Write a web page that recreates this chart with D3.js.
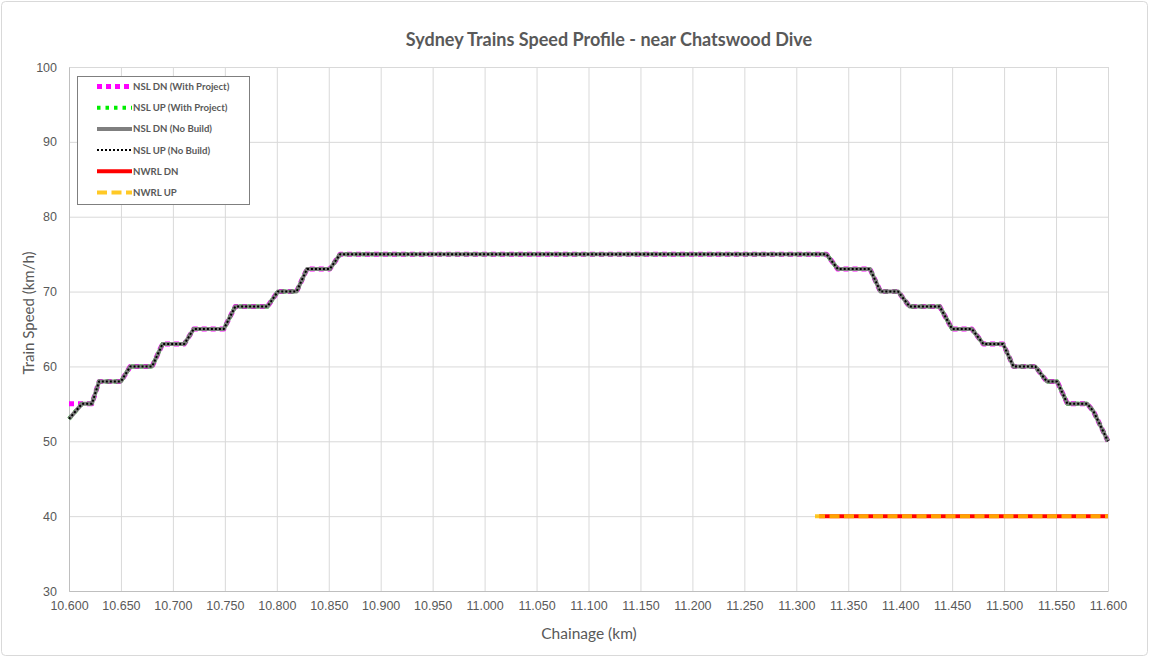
<!DOCTYPE html>
<html>
<head>
<meta charset="utf-8">
<script src="https://cdn.jsdelivr.net/npm/d3@7.9.0/dist/d3.min.js"></script>
<style>
  html, body { margin: 0; padding: 0; background: #fff; }
  svg { display: block; font-family: Lato, "Open Sans", sans-serif; }
  .grid line { stroke: #d9d9d9; stroke-width: 1; }
  .grid .domain { display: none; }
  .axis text { fill: #595959; font-size: 12.5px; }
  .axis line { display: none; }
  .axis .domain { stroke: #bfbfbf; }
</style>
</head>
<body>
<div id="chart"></div>
<script>
// --- data ---
const xTicks = [10.600, 10.650, 10.700, 10.750, 10.800, 10.850, 10.900, 10.950, 11.000, 11.050,
  11.100, 11.150, 11.200, 11.250, 11.300, 11.350, 11.400, 11.450, 11.500, 11.550, 11.600];
const yTicks = [30, 40, 50, 60, 70, 80, 90, 100];

// NSL speed profile (no build) - chainage in km, speed in km/h
const nslKm = [10.600, 10.6125, 10.622, 10.629, 10.650, 10.659, 10.680, 10.690, 10.711, 10.720,
  10.749, 10.760, 10.791, 10.801, 10.819, 10.829, 10.851, 10.861, 11.329, 11.340,
  11.371, 11.381, 11.398, 11.409, 11.438, 11.450, 11.469, 11.480, 11.499, 11.509,
  11.530, 11.541, 11.551, 11.561, 11.580, 11.586, 11.600];
const nslSpeed = [53, 55, 55, 58, 58, 60, 60, 63, 63, 65,
  65, 68, 68, 70, 70, 73, 73, 75, 75, 73,
  73, 70, 70, 68, 68, 65, 65, 63, 63, 60,
  60, 58, 58, 55, 55, 54, 50];

// with project DN starts at 55 instead of 53
const dnProjectKm = [10.600, ...nslKm.slice(1)];
const dnProjectSpeed = [55, ...nslSpeed.slice(1)];

// NWRL
const nwrlDnKm = [11.322, 11.600];
const nwrlDnSpeed = [40, 40];
const nwrlUpKm = [11.318, 11.600];
const nwrlUpSpeed = [40, 40];

const zip = (xs, ys) => xs.map((x, i) => ({ x, y: ys[i] }));

// draw order matters: first listed drawn underneath
const series = [
  { name: 'NSL DN (With Project)', data: zip(dnProjectKm, dnProjectSpeed), color: '#ff00ff', width: 5, dash: '5,4' },
  { name: 'NSL UP (With Project)', data: zip(nslKm, nslSpeed), color: '#00ee00', width: 4, dash: '3.5,5' },
  { name: 'NSL DN (No Build)', data: zip(nslKm, nslSpeed), color: '#7f7f7f', width: 4, dash: null },
  { name: 'NSL UP (No Build)', data: zip(nslKm, nslSpeed), color: '#000000', width: 2, dash: '2,2' },
  { name: 'NWRL DN', data: zip(nwrlDnKm, nwrlDnSpeed), color: '#ff0000', width: 4, dash: null },
  { name: 'NWRL UP', data: zip(nwrlUpKm, nwrlUpSpeed), color: '#ffc000', width: 4, dash: '10,4.5', opacity: 0.85 },
];

// --- layout ---
const width = 1150;
const height = 660;
const margin = { top: 67, right: 42, bottom: 69, left: 69 };
const plot = {
  left: margin.left,
  right: width - margin.right,
  top: margin.top,
  bottom: height - margin.bottom,
};

const svg = d3.select('#chart').append('svg')
  .attr('width', width)
  .attr('height', height);

// outer chart border
svg.append('rect')
  .attr('x', 1.5).attr('y', 1.5)
  .attr('width', width - 4).attr('height', height - 6)
  .attr('rx', 4)
  .attr('fill', '#fff')
  .attr('stroke', '#d9d9d9');

const x = d3.scaleLinear().domain([10.6, 11.6]).range([plot.left, plot.right]);
const y = d3.scaleLinear().domain([30, 100]).range([plot.bottom, plot.top]);

// gridlines
svg.append('g').attr('class', 'grid')
  .attr('transform', `translate(0,${plot.bottom})`)
  .call(d3.axisBottom(x).tickValues(xTicks).tickFormat('').tickSize(-(plot.bottom - plot.top)));
svg.append('g').attr('class', 'grid')
  .attr('transform', `translate(${plot.left},0)`)
  .call(d3.axisLeft(y).tickValues(yTicks).tickFormat('').tickSize(-(plot.right - plot.left)));

// axes
svg.append('g').attr('class', 'axis')
  .attr('transform', `translate(0,${plot.bottom})`)
  .call(d3.axisBottom(x).tickValues(xTicks).tickFormat(d3.format('.3f')).tickSize(0).tickPadding(10));
svg.append('g').attr('class', 'axis')
  .attr('transform', `translate(${plot.left},0)`)
  .call(d3.axisLeft(y).tickValues(yTicks).tickSize(0).tickPadding(12));

// lines
const line = d3.line().x(d => x(d.x)).y(d => y(d.y));
svg.append('g').selectAll('path')
  .data(series)
  .join('path')
  .attr('d', d => line(d.data))
  .attr('fill', 'none')
  .attr('stroke', d => d.color)
  .attr('stroke-width', d => d.width)
  .attr('stroke-dasharray', d => d.dash)
  .attr('stroke-linejoin', 'round')
  .attr('opacity', d => d.opacity || 1);

// title and axis labels
svg.append('text')
  .attr('x', 609).attr('y', 46)
  .attr('text-anchor', 'middle')
  .attr('fill', '#595959')
  .style('font-size', '18px')
  .style('font-weight', 'bold')
  .text('Sydney Trains Speed Profile - near Chatswood Dive');

svg.append('text')
  .attr('x', 589).attr('y', 639)
  .attr('text-anchor', 'middle')
  .attr('fill', '#595959')
  .style('font-size', '15.5px')
  .text('Chainage (km)');

svg.append('text')
  .attr('transform', `translate(34,313) rotate(-90)`)
  .attr('text-anchor', 'middle')
  .attr('fill', '#595959')
  .style('font-size', '15px')
  .text('Train Speed (km/h)');

// legend
const legend = svg.append('g').attr('transform', 'translate(77,76)');
legend.append('rect')
  .attr('x', 0.5).attr('y', 0.5)
  .attr('width', 172).attr('height', 128)
  .attr('fill', '#fff')
  .attr('stroke', '#7f7f7f')
  .attr('stroke-width', 1);

const items = legend.selectAll('g.item')
  .data(series)
  .join('g')
  .attr('class', 'item')
  .attr('transform', (d, i) => `translate(0,${10.5 + i * 21.2})`);

items.append('line')
  .attr('x1', 20).attr('x2', 55)
  .attr('stroke', d => d.color)
  .attr('stroke-width', d => d.width)
  .attr('stroke-dasharray', d => d.dash)
  .attr('opacity', d => d.opacity || 1);

items.append('text')
  .attr('x', 56).attr('y', 3.5)
  .attr('fill', '#595959')
  .style('font-size', '9.6px')
  .style('font-weight', 'bold')
  .text(d => d.name);
</script>
</body>
</html>
